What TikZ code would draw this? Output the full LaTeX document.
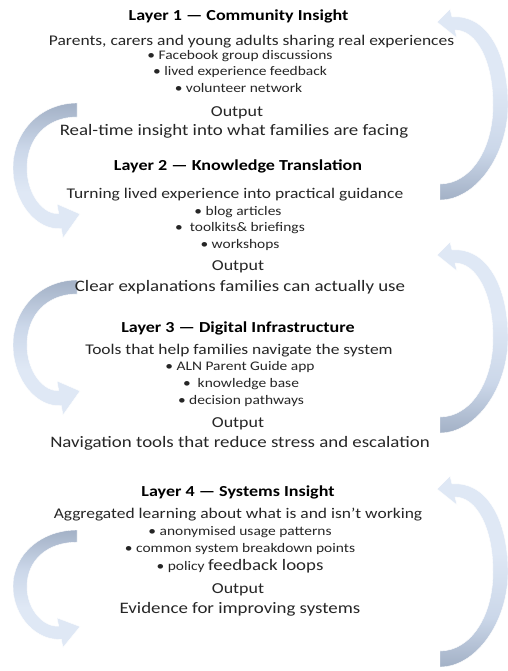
\documentclass[tikz,border=0pt]{standalone}
\usepackage{fontspec}
\setmainfont{Carlito}[FakeStretch=1.18]
\definecolor{txt}{RGB}{38,38,38}
\definecolor{arlight}{RGB}{223,232,245}
\definecolor{armid}{RGB}{203,215,233}
\definecolor{ardark}{RGB}{163,177,198}
\pgfdeclareverticalshading{rsh}{100bp}{color(0bp)=(ardark); color(25bp)=(ardark); color(38bp)=(armid); color(55bp)=(arlight); color(100bp)=(arlight)}
\pgfdeclareverticalshading{lsh}{100bp}{color(0bp)=(arlight); color(42bp)=(arlight); color(58bp)=(armid); color(75bp)=(ardark); color(100bp)=(ardark)}
\tikzset{
  ttl/.style={inner sep=0pt, text=black, font=\fontsize{15.3}{18}\selectfont\bfseries, text height=0.62em, text depth=0.18em},
  desc/.style={inner sep=0pt, text=txt, font=\fontsize{14.8}{17}\selectfont, text height=0.62em, text depth=0.18em},
  bul/.style={inner sep=0pt, text=txt, font=\fontsize{13.1}{15}\selectfont, text height=0.62em, text depth=0.18em},
  outw/.style={inner sep=0pt, text=txt, font=\fontsize{15.2}{18}\selectfont, text height=0.62em, text depth=0.18em},
  outd/.style={inner sep=0pt, text=txt, font=\fontsize{16}{19}\selectfont, text height=0.62em, text depth=0.18em},
  rshade/.style={shading=rsh, draw=white, line width=0.4pt},
  lshade/.style={shading=lsh, draw=white, line width=0.4pt},
  rarrow/.pic={
    \shade[rshade] (0,0) .. controls (36,0) and (68,-45) .. (68,-95)
      .. controls (68,-150) and (45,-186) .. (12,-183)
      -- (10,-191) -- (-3,-178) -- (17,-162) -- (15,-170)
      .. controls (36,-170) and (53,-140) .. (53,-95)
      .. controls (53,-50) and (30,-16) .. (0,-16) -- cycle;
  },
  larrow/.pic={
    \shade[lshade] (0,0) .. controls (-35,0) and (-64,27) .. (-64,65)
      .. controls (-64,100) and (-40,128) .. (-15.7,125.5)
      -- (-14,135) -- (3,111) -- (-20,101) -- (-18.3,110.5)
      .. controls (-33,112) and (-50,92) .. (-50,65)
      .. controls (-50,35) and (-30,14) .. (0,14) -- cycle;
  }
}
\begin{document}
\begin{tikzpicture}[x=1pt,y=-1pt]
\useasboundingbox[fill=white] (0,0) rectangle (507,671);
% arrows
\pic at (440,200) {rarrow};
\pic at (440,433) {rarrow};
\pic at (440,667) {rarrow};
\pic at (77,103) {larrow};
\pic at (77,280) {larrow};
\pic[yscale=0.87] at (77,530) {larrow};
% Layer 1
\node[ttl]  (t1)  at (238.5,18) {Layer 1 — Community Insight};
\node[desc] (d1)  at (251.5,43) {Parents, carers and young adults sharing real experiences};
\node[bul]  (b11) at (240,57)  {• Facebook group discussions};
\node[bul]  (b12) at (240,73)  {• lived experience feedback};
\node[bul]  (b13) at (238.5,90) {• volunteer network};
\node[outw] (o1)  at (237,114) {Output};
\node[outd] (r1)  at (234,133) {Real-time insight into what families are facing};
% Layer 2
\node[ttl]  (t2)  at (238,168) {Layer 2 — Knowledge Translation};
\node[desc] (d2)  at (235,196) {Turning lived experience into practical guidance};
\node[bul]  (b21) at (238,213) {• blog articles};
\node[bul]  (b22) at (240,229) {•\ \ toolkits\& briefings};
\node[bul]  (b23) at (240,246) {• workshops};
\node[outw] (o2)  at (238,268) {Output};
\node[outd] (r2)  at (240,289) {Clear explanations families can actually use};
% Layer 3
\node[ttl]  (t3)  at (238,330) {Layer 3 — Digital Infrastructure};
\node[desc] (d3)  at (239,352) {Tools that help families navigate the system};
\node[bul]  (b31) at (240,368) {• ALN Parent Guide app};
\node[bul]  (b32) at (241,385) {•\ \ knowledge base};
\node[bul]  (b33) at (241,402) {• decision pathways};
\node[outw] (o3)  at (238,425) {Output};
\node[outd] (r3)  at (240,445) {Navigation tools that reduce stress and escalation};
% Layer 4
\node[ttl]  (t4)  at (238,494) {Layer 4 — Systems Insight};
\node[desc] (d4)  at (238,516) {Aggregated learning about what is and isn’t working};
\node[bul]  (b41) at (240,533) {• anonymised usage patterns};
\node[bul]  (b42) at (240,550) {• common system breakdown points};
\node[bul]  (b43) at (240,568) {• policy {\fontsize{16}{19}\selectfont feedback loops}};
\node[outw] (o4)  at (238,591) {Output};
\node[outd] (r4)  at (240,611) {Evidence for improving systems};
\end{tikzpicture}
\end{document}
